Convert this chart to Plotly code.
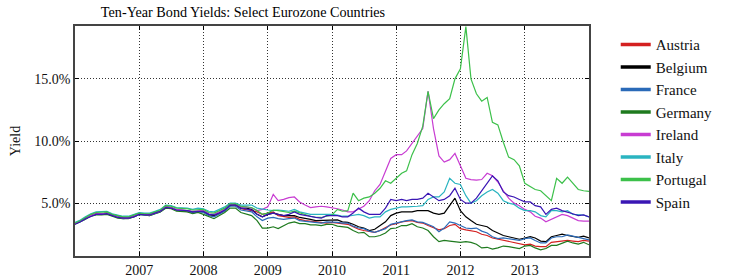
import pandas as pd
import plotly.graph_objects as go

dates = pd.date_range("2006-01-01", "2014-01-01", freq="MS")

countries = ["Austria", "Belgium", "France", "Germany", "Ireland", "Italy", "Portugal", "Spain"]
colors = ["#d42020", "#000000", "#2a6ab8", "#1e7a1e", "#c83cd2", "#2ab4c0", "#3cc04a", "#3a16b4"]

austria = [3.35,3.55,3.75,4.0,4.15,4.15,4.2,4.0,3.9,3.8,3.8,3.95,
           4.15,4.1,4.05,4.2,4.35,4.7,4.65,4.45,4.4,4.35,4.25,4.35,
           4.3,4.05,3.95,4.2,4.4,4.85,4.85,4.55,4.5,4.4,4.3,4.1,
           4.2,4.3,4.0,3.9,3.85,3.9,3.7,3.6,3.55,3.45,3.4,3.4,
           3.45,3.4,3.3,3.3,3.1,2.9,2.8,2.7,2.65,2.8,3.0,3.25,
           3.35,3.5,3.55,3.6,3.45,3.4,3.2,3.0,2.85,2.95,3.2,3.3,
           2.95,2.85,2.8,2.7,2.5,2.4,2.2,2.1,2.0,1.9,1.85,1.75,
           1.65,1.7,1.55,1.5,1.5,1.85,1.9,1.95,2.0,1.95,1.9,2.0,
           1.95]
belgium = [3.35,3.55,3.75,4.0,4.15,4.15,4.2,4.05,3.9,3.8,3.8,3.95,
           4.15,4.1,4.05,4.2,4.35,4.7,4.65,4.45,4.45,4.4,4.3,4.35,
           4.35,4.1,4.0,4.25,4.45,4.85,4.9,4.6,4.6,4.5,4.1,3.9,
           4.1,4.2,4.1,4.0,4.0,4.0,3.85,3.8,3.7,3.6,3.6,3.65,
           3.6,3.65,3.5,3.45,3.3,3.1,3.0,2.8,2.9,3.2,3.5,4.0,
           4.2,4.3,4.3,4.3,4.4,4.4,4.4,4.2,4.1,4.2,4.85,5.4,
           4.4,3.9,3.6,3.3,3.2,3.1,2.8,2.6,2.4,2.3,2.2,2.1,
           2.2,2.3,2.2,1.95,1.9,2.3,2.4,2.5,2.4,2.35,2.25,2.35,
           2.2]
france = [3.35,3.5,3.7,4.0,4.1,4.1,4.15,4.0,3.85,3.75,3.8,3.9,
          4.1,4.05,4.0,4.15,4.3,4.65,4.6,4.45,4.4,4.35,4.2,4.3,
          4.25,4.0,3.9,4.1,4.35,4.75,4.75,4.45,4.4,4.3,3.9,3.6,
          3.8,3.85,3.75,3.7,3.75,3.8,3.6,3.55,3.5,3.45,3.4,3.5,
          3.5,3.45,3.4,3.4,3.15,3.0,2.95,2.75,2.65,2.8,2.95,3.3,
          3.4,3.55,3.6,3.65,3.5,3.45,3.3,3.1,2.7,3.0,3.5,3.4,
          3.2,3.0,2.95,3.0,2.75,2.6,2.3,2.15,2.2,2.15,2.1,2.0,
          2.15,2.2,2.0,1.8,1.8,2.2,2.3,2.3,2.45,2.35,2.2,2.15,
          2.05]
germany = [3.3,3.5,3.7,3.95,4.05,4.05,4.1,3.95,3.8,3.75,3.75,3.9,
           4.1,4.05,4.0,4.15,4.3,4.6,4.55,4.35,4.3,4.3,4.15,4.25,
           4.1,3.9,3.75,4.0,4.25,4.6,4.6,4.25,4.15,4.0,3.6,3.0,
           3.0,3.1,2.95,3.15,3.4,3.5,3.35,3.35,3.25,3.25,3.2,3.3,
           3.3,3.15,3.1,3.05,2.8,2.6,2.65,2.3,2.3,2.4,2.6,2.95,
           3.0,3.2,3.2,3.35,3.1,3.0,2.8,2.3,1.9,2.0,1.95,1.9,
           1.85,1.9,1.85,1.7,1.4,1.45,1.3,1.4,1.55,1.5,1.4,1.35,
           1.55,1.6,1.4,1.25,1.35,1.6,1.6,1.8,1.95,1.8,1.7,1.85,
           1.65]
ireland = [3.35,3.55,3.75,4.0,4.15,4.15,4.2,4.05,3.9,3.8,3.8,3.95,
           4.15,4.1,4.05,4.2,4.35,4.7,4.65,4.5,4.45,4.45,4.35,4.4,
           4.4,4.15,4.1,4.3,4.5,4.9,4.95,4.7,4.7,4.6,4.4,4.5,
           4.7,5.7,5.2,5.3,5.45,5.5,5.1,4.85,4.65,4.7,4.75,4.7,
           4.65,4.55,4.45,4.3,4.3,4.5,4.75,5.2,6.0,6.5,7.5,8.6,
           8.9,8.9,9.2,9.8,10.3,11.0,14.0,11.0,8.8,8.3,8.5,9.0,
           8.0,7.0,6.9,6.85,6.9,7.4,7.2,6.7,6.0,5.4,5.0,4.8,
           4.5,4.3,3.95,3.8,3.5,3.7,3.9,4.1,4.0,3.8,3.6,3.55,
           3.55]
italy = [3.45,3.65,3.9,4.15,4.3,4.3,4.35,4.15,4.05,3.95,3.95,4.1,
         4.25,4.2,4.2,4.35,4.5,4.85,4.8,4.65,4.65,4.6,4.5,4.6,
         4.55,4.35,4.3,4.5,4.7,5.0,5.0,4.85,4.85,4.85,4.6,4.5,
         4.45,4.4,4.45,4.4,4.35,4.5,4.3,4.2,4.1,4.1,4.1,4.15,
         4.1,4.05,3.95,3.95,4.0,4.1,4.0,3.8,3.9,3.9,4.3,4.5,
         4.6,4.7,4.7,4.7,4.75,4.8,5.3,5.5,5.5,5.9,7.0,6.6,
         6.5,5.6,5.0,5.2,5.6,5.9,6.1,5.8,5.2,5.0,4.9,4.6,
         4.4,4.4,4.3,4.0,3.9,4.4,4.4,4.3,4.4,4.1,4.05,4.05,
         3.9]
portugal = [3.4,3.6,3.85,4.1,4.25,4.25,4.3,4.1,4.0,3.9,3.9,4.05,
            4.2,4.15,4.15,4.3,4.45,4.8,4.75,4.6,4.6,4.55,4.45,4.5,
            4.5,4.25,4.2,4.4,4.6,4.95,4.95,4.75,4.7,4.65,4.4,4.1,
            4.2,4.45,4.4,4.3,4.25,4.35,4.2,4.05,3.95,3.85,3.85,3.95,
            4.05,4.5,4.35,4.4,5.8,5.2,5.4,5.5,5.8,6.2,6.8,6.6,
            7.0,7.4,7.6,8.9,9.8,11.2,14.0,11.8,12.5,13.0,13.4,15.0,
            15.8,19.2,15.0,13.8,13.2,13.5,11.5,11.3,9.9,8.7,8.5,8.0,
            6.6,6.3,6.1,6.0,5.6,5.2,7.0,6.6,7.1,6.6,6.1,6.0,
            5.95]
spain = [3.3,3.5,3.75,3.95,4.1,4.1,4.15,4.0,3.85,3.8,3.8,3.9,
         4.1,4.05,4.05,4.2,4.35,4.65,4.6,4.45,4.45,4.4,4.3,4.35,
         4.35,4.1,4.05,4.2,4.45,4.85,4.85,4.6,4.55,4.45,4.1,3.9,
         4.1,4.2,4.1,4.0,4.1,4.3,4.1,4.0,3.9,3.85,3.8,4.0,
         4.0,4.0,3.9,3.9,4.2,4.6,4.3,4.1,4.1,4.1,4.6,5.3,
         5.2,5.3,5.2,5.3,5.3,5.4,5.8,5.5,5.2,5.3,5.6,6.2,
         5.3,5.0,5.0,5.4,6.0,6.6,7.2,6.8,5.9,5.6,5.5,5.3,
         5.1,5.1,4.8,4.7,4.1,4.5,4.6,4.4,4.3,4.15,4.0,4.05,
         3.9]

series = [austria, belgium, france, germany, ireland, italy, portugal, spain]
year_ticks = ["2007", "2008", "2009", "2010", "2011", "2012", "2013"]
yield_ticks = [5, 10, 15]

FONT = "Liberation Serif"
fig = go.Figure()
for name, col, vals in zip(countries, colors, series):
    fig.add_trace(go.Scatter(x=dates, y=vals, mode="lines", name=name,
                             line=dict(color=col, width=1.2), showlegend=False,
                             hoverinfo="skip"))
for name, col in zip(countries, colors):
    fig.add_trace(go.Scatter(x=[None], y=[None], mode="lines", name=name,
                             line=dict(color=col, width=3.5)))

fig.update_layout(
    width=730, height=280,
    margin=dict(l=75, r=128, t=26, b=24),
    paper_bgcolor="white", plot_bgcolor="white",
    font=dict(family=FONT, size=14, color="#111"),
    title=dict(text="Ten-Year Bond Yields: Select Eurozone Countries",
               font=dict(family=FONT, size=14.2, color="#000"),
               x=243/730, xanchor="center", xref="container",
               y=1-12/280, yanchor="middle", yref="container"),
    legend=dict(x=1.052, xanchor="left", y=0.99, yanchor="top",
                maxheight=270,
                font=dict(family=FONT, size=15, color="#111"),
                bgcolor="rgba(0,0,0,0)", borderwidth=0),
    showlegend=True,
)
fig.update_xaxes(
    type="date", range=["2006-01-01", "2014-01-01"], automargin=False,
    tickvals=[y + "-01-01" for y in year_ticks], ticktext=year_ticks,
    showgrid=True, gridcolor="#333", griddash="1px,2px", gridwidth=1,
    showline=True, linecolor="#444", linewidth=1.5, mirror="allticks",
    ticks="inside", ticklen=4, tickcolor="#000", tickwidth=1,
    zeroline=False, tickfont=dict(family=FONT, size=14),
)
fig.update_yaxes(
    range=[0.75, 19.25], tickvals=yield_ticks, automargin=False,
    ticktext=[f"{v:.1f}%" for v in yield_ticks],
    showgrid=True, gridcolor="#333", griddash="1px,2px", gridwidth=1,
    showline=True, linecolor="#444", linewidth=1.5, mirror="allticks",
    ticks="inside", ticklen=4, tickcolor="#000", tickwidth=1,
    zeroline=False, tickfont=dict(family=FONT, size=14),
    title=dict(text="Yield", font=dict(family=FONT, size=14), standoff=10),
)
fig.write_html("out.html", config={"displayModeBar": False},
               post_script="document.body.style.margin='0';")
